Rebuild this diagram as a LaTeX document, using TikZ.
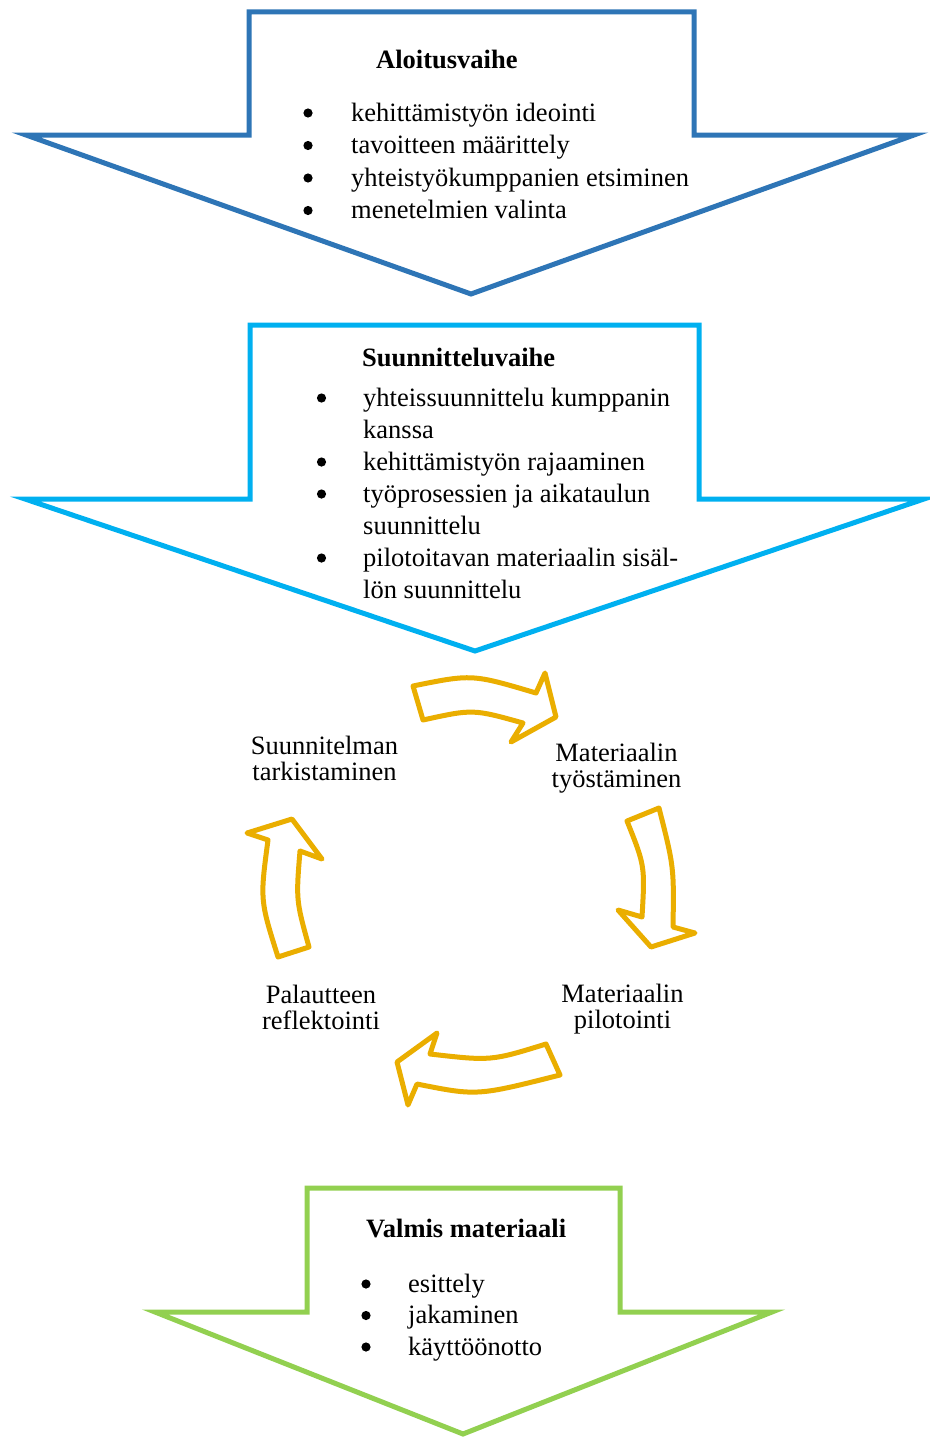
\documentclass[tikz,border=0pt]{standalone}
\usepackage{fontspec}
\setmainfont{Liberation Serif}
\definecolor{blueA}{RGB}{46,117,182}
\definecolor{blueB}{RGB}{0,176,240}
\definecolor{greenC}{RGB}{146,208,80}
\definecolor{goldD}{RGB}{234,174,0}
\begin{document}
\begin{tikzpicture}[x=1pt,y=-1pt,
  bigarrow/.style={line width=5pt, line join=miter, fill=white},
  cyc/.style={draw=goldD, line width=5pt, line join=round, fill=white},
  lst/.style={anchor=base west, inner sep=0pt},
  bul/.style={fill=black},
  hd/.style={anchor=base west, inner sep=0pt, font=\fontsize{26.5}{32}\selectfont\bfseries},
  lab/.style={anchor=base, inner sep=0pt, font=\fontsize{26.5}{26.5}\selectfont}]
\useasboundingbox (0,0) rectangle (929,1437);

% big arrows
\draw[bigarrow, draw=blueA] (249,12) -- (694,12) -- (694,135) -- (914,135) -- (471,294) -- (26,135) -- (249,135) -- cycle;
\draw[bigarrow, draw=blueB] (250,325) -- (699,325) -- (699,499) -- (924,499) -- (475,651) -- (25,499) -- (250,499) -- cycle;
\draw[bigarrow, draw=greenC] (307,1188) -- (620,1188) -- (620,1312) -- (772,1312) -- (463,1434) -- (155,1312) -- (307,1312) -- cycle;

% headings
\node[hd] (h1) at (376,69) {Aloitusvaihe};
\node[hd] (h2) at (362,366) {Suunnitteluvaihe};
\node[hd] (h3) at (366,1237) {Valmis materiaali};

% lists
\node[lst] (l1) at (351,121) {\fontsize{26.5}{32.5}\selectfont
  \begin{tabular}[t]{@{}l@{}}
  kehittämistyön ideointi\\
  tavoitteen määrittely\\
  yhteistyökumppanien etsiminen\\
  menetelmien valinta
  \end{tabular}};
\node[lst] (l2) at (363,406) {\fontsize{26.5}{32}\selectfont
  \begin{tabular}[t]{@{}l@{}}
  yhteissuunnittelu kumppanin\\
  kanssa\\
  kehittämistyön rajaaminen\\
  työprosessien ja aikataulun\\
  suunnittelu\\
  pilotoitavan materiaalin sisäl-\\
  lön suunnittelu
  \end{tabular}};
\node[lst] (l3) at (408,1292) {\fontsize{26.5}{31.5}\selectfont
  \begin{tabular}[t]{@{}l@{}}
  esittely\\
  jakaminen\\
  käyttöönotto
  \end{tabular}};

% bullets
\foreach \yy in {113,145.5,178,210.5} \fill[bul] (308,\yy) circle (4.6);
\foreach \yy in {398,462,494,558} \fill[bul] (321.5,\yy) circle (4.6);
\foreach \yy in {1284,1315.5,1347} \fill[bul] (366,\yy) circle (4.6);

% cycle arrows
\draw[cyc] (413,686) .. controls (472,674) .. (536,693) -- (545,673) -- (556,717) -- (511,742) -- (523,723) .. controls (473,709) .. (423,720) -- cycle;
\draw[cyc] (627,821) -- (659,808) .. controls (674,867) .. (673,927) -- (695,933) -- (651,947) -- (618,910) -- (642,917) .. controls (645,866) .. (627,821) -- cycle;
\draw[cyc] (546,1044) .. controls (491,1061) .. (430,1054) -- (437,1033) -- (397,1062) -- (408,1105) -- (417,1084) .. controls (477,1096) .. (560,1075) -- cycle;
\draw[cyc] (278,957) -- (309,947) .. controls (296,900) .. (300,851) -- (322,859) -- (292,819) -- (247,833) -- (268,840) .. controls (260,900) .. (278,957) -- cycle;

% cycle labels
\node[lab] (c1) at (324.5,754) {\begin{tabular}[t]{@{}c@{}}Suunnitelman\\tarkistaminen\end{tabular}};
\node[lab] (c2) at (616.5,761) {\begin{tabular}[t]{@{}c@{}}Materiaalin\\työstäminen\end{tabular}};
\node[lab] (c3) at (622.5,1002) {\begin{tabular}[t]{@{}c@{}}Materiaalin\\pilotointi\end{tabular}};
\node[lab] (c4) at (321,1003) {\begin{tabular}[t]{@{}c@{}}Palautteen\\reflektointi\end{tabular}};
\end{tikzpicture}
\end{document}
